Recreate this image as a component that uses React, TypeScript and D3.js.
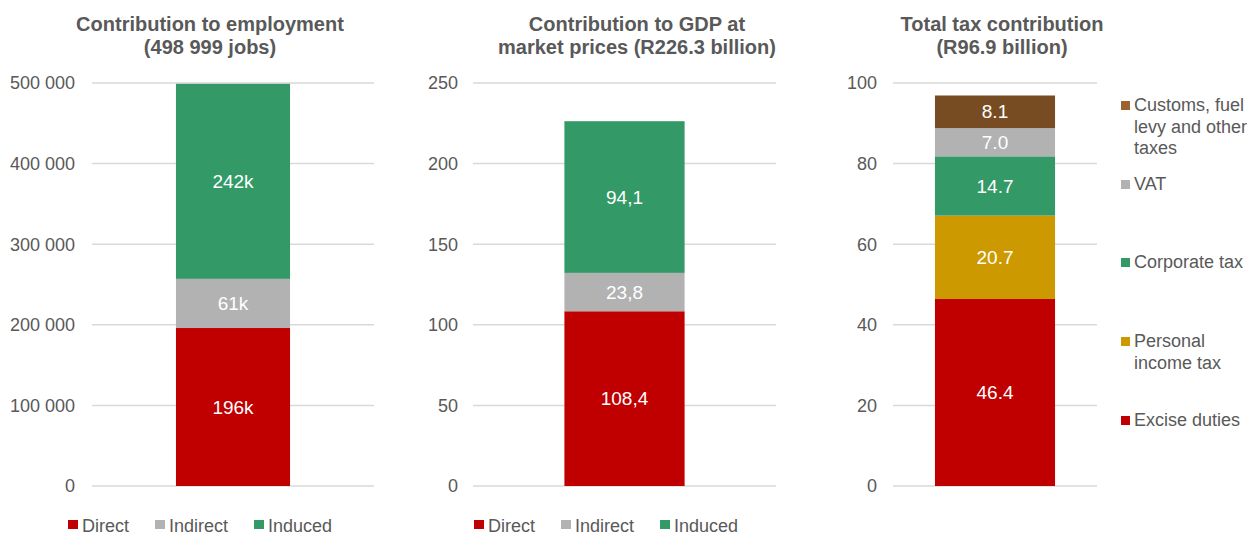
import React from "react";
import * as d3 from "d3";

// ---------- data ----------
const empSeries = ["Direct", "Indirect", "Induced"];
const empValues = [196000, 61000, 241999];
const empTicks = [0, 100000, 200000, 300000, 400000, 500000];
const empTitle = ["Contribution to employment", "(498 999 jobs)"];

const gdpSeries = ["Direct", "Indirect", "Induced"];
const gdpValues = [108.4, 23.8, 94.1];
const gdpTicks = [0, 50, 100, 150, 200, 250];
const gdpTitle = ["Contribution to GDP at", "market prices (R226.3 billion)"];

const taxSeries = ["Excise duties", "Personal income tax", "Corporate tax", "VAT", "Customs, fuel levy and other taxes"];
const taxLegendLines = [["Excise duties"], ["Personal", "income tax"], ["Corporate tax"], ["VAT"], ["Customs, fuel", "levy and other", "taxes"]];
const taxValues = [46.4, 20.7, 14.7, 7.0, 8.1];
const taxTicks = [0, 20, 40, 60, 80, 100];
const taxTitle = ["Total tax contribution", "(R96.9 billion)"];

// ---------- style ----------
const FONT = "'Liberation Sans', Arial, sans-serif";
const TEXT = "#595959";
const GRID = "#D9D9D9";
const RED = "#C00000";
const GREY = "#B2B2B2";
const GREEN = "#339966";
const GOLD = "#CC9900";
const BROWN = "#774C23";
const empColors = [RED, GREY, GREEN];
const taxColors = [RED, GOLD, GREEN, GREY, BROWN];
const taxLegendColors = [RED, GOLD, GREEN, GREY, "#9C6330"];

const fmtSpace = (v: number) => d3.format(",")(v).replace(/,/g, " ");
const fmtK = (v: number) => `${Math.round(v / 1000)}k`;
const fmtComma = (v: number) => d3.format(".1f")(v).replace(".", ",");
const fmtDot = (v: number) => d3.format(".1f")(v);

let ctx: CanvasRenderingContext2D | null = null;
function textWidth(t: string, size = 18) {
  if (!ctx) ctx = document.createElement("canvas").getContext("2d");
  if (!ctx) return t.length * size * 0.5;
  ctx.font = `${size}px 'Liberation Sans', Arial, sans-serif`;
  return ctx.measureText(t).width;
}

type PanelProps = {
  title: string[];
  titleX: number;
  series: string[];
  values: number[];
  colors: string[];
  ticks: number[];
  tickFmt: (v: number) => string;
  labelFmt: (v: number) => string;
  domainMax: number;
  gridX: [number, number];
  padding: number;
  labelX: number;
};

function Panel(p: PanelProps) {
  const y = d3.scaleLinear().domain([0, p.domainMax]).range([486, 83]);
  const x = d3.scaleBand<string>().domain(["total"]).range(p.gridX).paddingInner(p.padding).paddingOuter(p.padding);
  const stacked = d3.stack<number[]>().keys(p.series.map((_, i) => String(i)))
    .value((d, k) => d[+k])([p.values]);
  const bx = x("total") as number;
  const bw = x.bandwidth();
  return (
    <g>
      {p.title.map((t, i) => (
        <text key={i} x={p.titleX} y={31 + i * 23} textAnchor="middle" fontFamily={FONT}
          fontWeight="bold" fontSize={20} fill={TEXT}>{t}</text>
      ))}
      {p.ticks.map((t) => (
        <g key={t}>
          <line x1={p.gridX[0]} x2={p.gridX[1]} y1={y(t)} y2={y(t)} stroke={GRID} strokeWidth={1.5} />
          <text x={p.labelX} y={y(t)} dy="0.35em" textAnchor="end" fontFamily={FONT} fontSize={18} fill={TEXT}>
            {p.tickFmt(t)}
          </text>
        </g>
      ))}
      {stacked.map((s, i) => {
        const [y0, y1] = s[0];
        return (
          <g key={i}>
            <rect x={bx} width={bw} y={y(y1)} height={y(y0) - y(y1)} fill={p.colors[i]} />
            <text x={bx + bw / 2} y={(y(y0) + y(y1)) / 2} dy="0.35em" textAnchor="middle" fontFamily={FONT}
              fontSize={19} fill="#FFFFFF">{p.labelFmt(p.values[i])}</text>
          </g>
        );
      })}
    </g>
  );
}

function HLegend({ series, colors, x0 }: { series: string[]; colors: string[]; x0: number }) {
  let cx = x0;
  const items = series.map((s, i) => {
    const item = (
      <g key={s}>
        <rect x={cx} y={520} width={10} height={9} fill={colors[i]} />
        <text x={cx + 14} y={532} fontFamily={FONT} fontSize={18} fill={TEXT}>{s}</text>
      </g>
    );
    cx += 14 + textWidth(s) + 26;
    return item;
  });
  return <g>{items}</g>;
}

function VLegend() {
  const baselines = [426, 347, 268, 190, 111];
  return (
    <g>
      {taxSeries.map((s, i) => (
        <g key={s}>
          <rect x={1121} y={baselines[i] - 10} width={9} height={9} fill={taxLegendColors[i]} />
          {taxLegendLines[i].map((ln, j) => (
            <text key={j} x={1134} y={baselines[i] + j * 21.5} fontFamily={FONT} fontSize={18} fill={TEXT}>{ln}</text>
          ))}
        </g>
      ))}
    </g>
  );
}

export default function App() {
  return (
    <svg width={1257} height={535} style={{ position: "absolute", left: 0, top: 0, background: "#fff" }}>
      <Panel title={empTitle} titleX={210} series={empSeries} values={empValues} colors={empColors}
        ticks={empTicks} tickFmt={fmtSpace} labelFmt={fmtK} domainMax={500000} gridX={[92, 374]} padding={0.424} labelX={75} />
      <HLegend series={empSeries} colors={empColors} x0={68} />
      <Panel title={gdpTitle} titleX={637} series={gdpSeries} values={gdpValues} colors={empColors}
        ticks={gdpTicks} tickFmt={(v) => String(v)} labelFmt={fmtComma} domainMax={250} gridX={[473, 776]} padding={0.432} labelX={458} />
      <HLegend series={gdpSeries} colors={empColors} x0={474} />
      <Panel title={taxTitle} titleX={1002} series={taxSeries} values={taxValues} colors={taxColors}
        ticks={taxTicks} tickFmt={(v) => String(v)} labelFmt={fmtDot} domainMax={100} gridX={[893, 1097]} padding={0.259} labelX={877} />
      <VLegend />
    </svg>
  );
}
